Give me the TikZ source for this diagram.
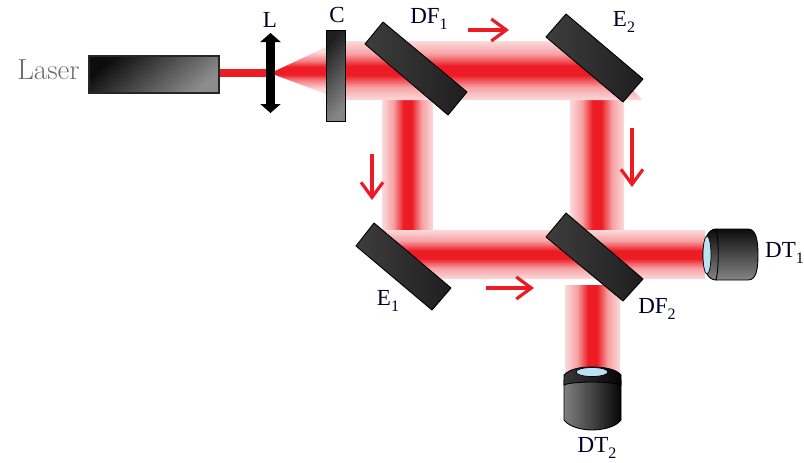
\documentclass[tikz,border=0pt]{standalone}
\usepackage{fontspec}
\setmainfont{Liberation Serif}
\newfontfamily\lmfont{Latin Modern Roman}
\usetikzlibrary{arrows.meta}
\definecolor{beamred}{HTML}{ED1C24}
\definecolor{beampale}{HTML}{FBDADB}
\definecolor{lenscol}{HTML}{B9E2F2}
\pgfdeclareverticalshading{beamprofile}{100bp}{
  color(0bp)=(beampale); color(25bp)=(beampale); color(36bp)=(beampale!70!beamred);
  color(46bp)=(beamred); color(54bp)=(beamred); color(64bp)=(beampale!70!beamred);
  color(75bp)=(beampale); color(100bp)=(beampale)}
\pgfdeclareverticalshading{conebeam}{100bp}{
  color(0bp)=(beampale); color(30bp)=(beampale); color(40bp)=(beampale!50!beamred);
  color(46bp)=(beamred); color(54bp)=(beamred); color(60bp)=(beampale!50!beamred);
  color(70bp)=(beampale); color(100bp)=(beampale)}
\tikzset{
  x=1pt,y=-1pt,
  hbeam/.style={shading=beamprofile},
  vbeam/.style={shading=beamprofile,shading angle=90},
  mirror/.style={draw=black,line width=0.9pt,left color=black!76,right color=black!88,line join=round},
  dir/.style={draw=beamred,line width=3.2pt,-{Straight Barb[length=15pt,width=22pt,line width=3.2pt]}},
  lab/.style={font=\fontsize{23}{24}\selectfont,text=black!85!blue,inner sep=0pt},
  lens/.style={fill=lenscol,draw=black,line width=0.7pt}
}
\newcommand{\sbs}[1]{\raisebox{-6pt}{\fontsize{16}{16}\selectfont #1}}
\begin{document}
\begin{tikzpicture}
\useasboundingbox (0,0) rectangle (804,463);
% beams
\shade[vbeam] (382,100) rectangle (433,232);
\shade[vbeam] (570,100) rectangle (624,232);
\shade[vbeam] (565,285) rectangle (620,372);
\shade[hbeam] (345,41) -- (590,41) -- (642,100) -- (345,100) -- cycle;
\shade[hbeam] (385,230) -- (705,230) -- (705,279) -- (425,279) -- cycle;
\fill[beamred] (219,69) rectangle (268,77);
\shade[shading=conebeam] (275,71) -- (326,47) -- (326,94) -- (275,75) -- cycle;
% laser
\node[draw=black!85,line width=1.4pt,minimum width=130pt,minimum height=37pt,inner sep=0pt,
  left color=black!95,right color=black!45,shading angle=40] (laser) at (154,74.5) {};
\node[font=\lmfont\fontsize{29}{30}\selectfont,text=black!58,inner sep=0pt] (laserlabel) at (48.5,70) {Laser};
% lens
\draw[black,line width=9pt,{Triangle[length=9pt,width=20pt]}-{Triangle[length=9pt,width=20pt]}] (270.5,33) -- (270.5,113);
\node[lab] (llab) at (270,20) {L};
% collimator
\node[draw=black,line width=1pt,minimum width=19pt,minimum height=91pt,inner sep=0pt,
  left color=black!88,right color=black!48,shading angle=50] (coll) at (335.5,75.5) {};
\node[lab] (clab) at (337,15) {C};
% mirrors
\path[mirror] (383,22) -- (467,92) -- (448,115) -- (365,44) -- cycle;
\path[mirror] (566,14) -- (643,79) -- (623,102) -- (546,37) -- cycle;
\path[mirror] (374,223) -- (451,288) -- (432,310) -- (356,246) -- cycle;
\path[mirror] (566,213) -- (643,279) -- (623,301) -- (546,237) -- cycle;
\node[lab] (dfa) at (429,19) {DF\sbs{1}};
\node[lab] (eb) at (624,22) {E\sbs{2}};
\node[lab] (ea) at (388,301) {E\sbs{1}};
\node[lab] (dfb) at (657,309) {DF\sbs{2}};
% direction arrows
\coordinate (a1) at (468,30); \coordinate (a2) at (509,30);
\coordinate (b1) at (632,128); \coordinate (b2) at (632,187);
\coordinate (c1) at (372,154); \coordinate (c2) at (372,200);
\coordinate (d1) at (486,288); \coordinate (d2) at (534,288);
\draw[dir] (a1) -- (a2);
\draw[dir] (b1) -- (b2);
\draw[dir] (c1) -- (c2);
\draw[dir] (d1) -- (d2);
% detector 1
\path[draw=black,line width=0.9pt,top color=black!95,bottom color=black!48]
  (716,229) -- (748,229) .. controls (756,229) and (758,240) .. (758,255)
  .. controls (758,270) and (756,280) .. (748,280) -- (716,280) -- cycle;
\path[draw=black,line width=0.9pt,top color=black!95,bottom color=black!48]
  (716,229) .. controls (708,229) and (703,240) .. (703,255)
  .. controls (703,270) and (708,280) .. (716,280)
  .. controls (719,268) and (719,242) .. (716,229) -- cycle;
\draw[lens] (707,255) ellipse [x radius=4,y radius=19];
\node[lab,anchor=west] (dta) at (765,253) {DT\sbs{1}};
% detector 2
\path[draw=black,line width=0.9pt,left color=black!50,right color=black!98]
  (564,380) -- (564,420) .. controls (570,428) and (585,430) .. (592,430)
  .. controls (600,430) and (615,428) .. (621,420) -- (621,380) -- cycle;
\path[draw=black,line width=0.9pt,left color=black!78,right color=black!98]
  (564,385) -- (564,375) .. controls (570,369) and (580,367) .. (592,367)
  .. controls (604,367) and (616,369) .. (621,375) -- (621,385)
  .. controls (612,381) and (572,381) .. (564,385) -- cycle;
\draw[lens] (592,372) ellipse [x radius=16,y radius=4.5];
\node[lab] (dtb) at (597,448) {DT\sbs{2}};
\end{tikzpicture}
\end{document}
